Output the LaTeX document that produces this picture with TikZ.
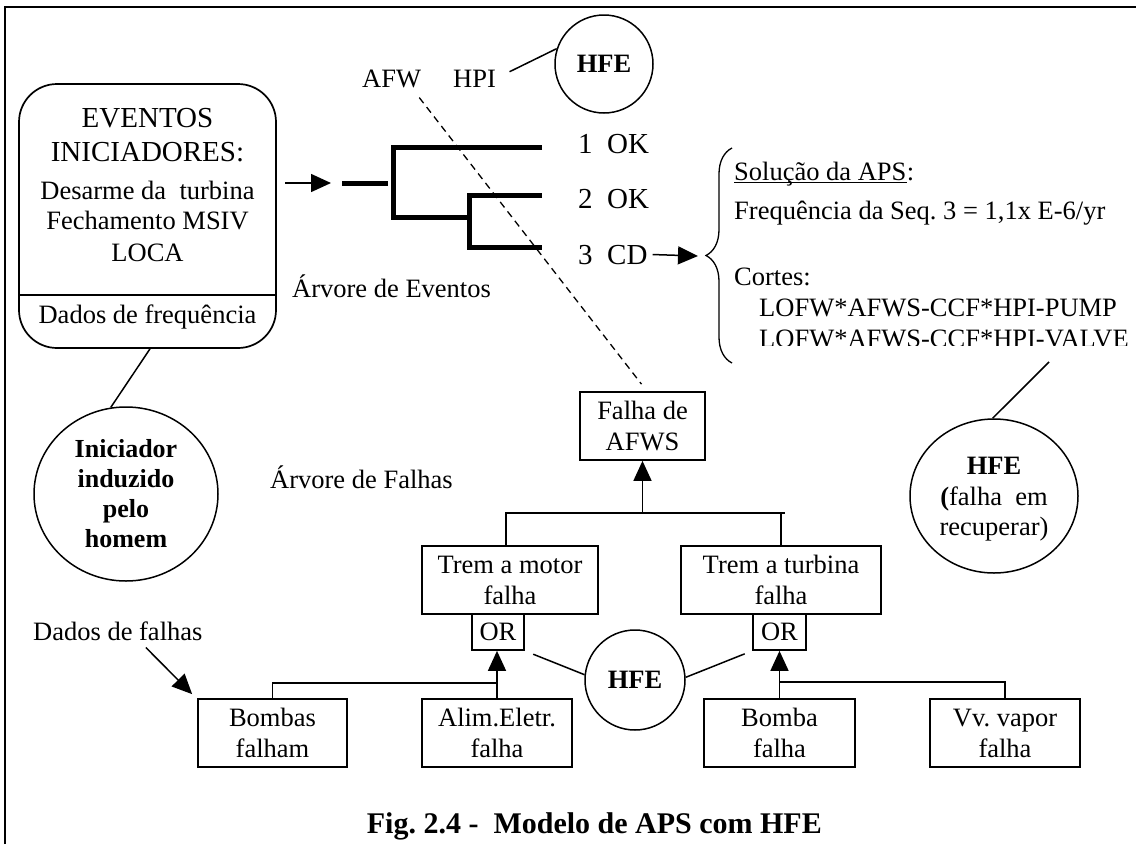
\documentclass[tikz,border=0pt]{standalone}
\usepackage{fontspec}
\setmainfont{Liberation Serif}
\usetikzlibrary{arrows.meta,shapes.geometric,decorations.pathreplacing,calc}
\newcommand{\mysize}{\fontsize{26.5}{31}\selectfont}
\newcommand{\bigsize}{\fontsize{29}{34}\selectfont}
\frenchspacing

\begin{document}
\begin{tikzpicture}[x=1pt,y=-1pt,
  txt/.style={inner sep=0pt, font=\mysize},
  box/.style={draw, line width=1.7pt, inner sep=0pt, align=center, font=\mysize, minimum height=68pt},
  gate/.style={draw, line width=1.7pt, inner sep=0pt, font=\mysize, minimum width=52pt, minimum height=36pt},
  bubble/.style={draw, ellipse, line width=1.5pt, inner sep=0pt},
  roundbubble/.style={draw, circle, line width=1.5pt, inner sep=0pt, font=\mysize\bfseries},
  conn/.style={line width=1.5pt},
  headed/.style={-{Triangle[length=20pt,width=18pt]}},
  branch/.style={line width=5pt},
  dashline/.style={line width=1.3pt, dash pattern=on 7pt off 5pt},
]
\useasboundingbox (0,0) rectangle (1136,844);

% frame
\draw[line width=2pt] (5,844) -- (5,7) -- (1136,7);

% initiating events
\node[draw, line width=1.7pt, rounded corners=38pt, minimum width=257pt, minimum height=264pt, inner sep=0pt] (ie) at (147.5,216) {};
\draw[line width=1.7pt] (ie.west |- 0,295) -- (ie.east |- 0,295);
\node[txt, font=\bigsize, anchor=base] (ev1) at (147.5,127) {EVENTOS};
\node[txt, font=\bigsize, anchor=base] (ev2) at (147.5,161) {INICIADORES:};
\node[txt, anchor=base] (ev3) at (147.5,199) {Desarme da~ turbina};
\node[txt, anchor=base] (ev4) at (147.5,229) {Fechamento MSIV};
\node[txt, anchor=base] (ev5) at (147.5,261) {LOCA};
\node[txt, anchor=base] (ev6) at (147.5,323) {Dados de frequência};

% human-induced initiator
\node[bubble, minimum width=184pt, minimum height=174pt] (ini) at (126,494) {};
\node[txt, font=\fontsize{26}{30}\selectfont\bfseries, align=center] (initxt) at (126,494) {Iniciador\\induzido\\pelo\\homem};
\draw[conn] ([xshift=2.5pt]ie.south) -- (ini.100);

% event tree
\coordinate (a0) at (285,183);
\coordinate (a1) at (331,183);
\draw[conn, headed] (a0) -- (a1);
\coordinate (s0) at (342,183);
\coordinate (s1) at (388,183);
\draw[branch] (s0) -- (s1);
\coordinate (b1) at (542,147.5);
\coordinate (b2) at (542,195);
\coordinate (b3) at (542,247.5);
\draw[branch] (b1) -| (393,217.5) -- (472,217.5);
\draw[branch] (b2) -| (469.5,247.5) -- (b3);
\node[txt, font=\bigsize, anchor=base west] (o1) at (578,153) {1~~OK};
\node[txt, font=\bigsize, anchor=base west] (o2) at (578,208) {2~~OK};
\node[txt, font=\bigsize, anchor=base west] (o3) at (578,264) {3~~CD};
\node[txt, anchor=base west] (evtree) at (292,297) {Árvore de Eventos};

% top headings and HFE
\node[txt, anchor=base west] (afw) at (362,87) {AFW};
\node[txt, anchor=base west] (hpi) at (453,87) {HPI};
\node[roundbubble, minimum size=98pt] (hfeT) at (604,64) {HFE};
\draw[conn, shorten <=15pt] (hpi.east) -- (hfeT.162);

% results brace
\coordinate (bt) at (698,256);
\draw[conn, headed] ([xshift=5pt]o3.east) -- (bt);
\coordinate (brA) at (732,363);
\coordinate (brB) at (732,148);
\draw[line width=1.3pt, decorate, decoration={brace, amplitude=26pt}] (brA) -- (brB);
\node[txt, anchor=base west] (sol) at (734,180) {Solução da APS};
\node[txt, anchor=base west] (colon) at (sol.base east) {:};
\draw[line width=1.2pt] ([shift={(0,2.5)}]sol.base west) -- ([shift={(0,2.5)}]sol.base east);
\node[txt, anchor=base west] (freq) at (734,219) {Frequência da Seq. 3 = 1,1x E-6/yr};
\node[txt, anchor=base west] (cortes) at (734,285) {Cortes:};
\node[txt, anchor=base west] (cut1) at (759,316) {LOFW*AFWS-CCF*HPI-PUMP};
\begin{scope}
  \clip (700,320) rectangle (1136,345.5);
  \node[txt, anchor=base west] (cut2) at (759,347.5) {LOFW*AFWS-CCF*HPI-VALVE};
\end{scope}

% recovery HFE
\node[bubble, minimum width=168pt, minimum height=154pt] (hfeR) at (994,496) {};
\node[txt, align=center, font=\fontsize{26.5}{30.5}\selectfont] (hfeRt) at (994,499.5) {\textbf{HFE}\\\textbf{(}falha~\ em\\recuperar)};
\coordinate (cutEnd) at (1049,362);
\draw[conn] (hfeR.91) -- (cutEnd);

% dashed link from the AFW heading down to the fault tree top event
\node[box, minimum width=125pt] (falha) at (642.5,426) {Falha de\\AFWS};
\draw[dashline] ([shift={(-2,10)}]afw.south east) -- ([shift={(-1,-7)}]falha.north);

% fault tree
\node[txt, anchor=base west] (fttree) at (270,488) {Árvore de Falhas};
\node[box, minimum width=176pt] (tm) at (510,580) {Trem a motor\\falha};
\node[gate] (orL) at (498,632) {OR};
\node[box, minimum width=200pt] (tt) at (781,580) {Trem a turbina\\falha};
\node[gate, minimum width=53pt] (orR) at (779.5,632) {OR};
\node[box, minimum width=149pt] (bf) at (272.5,733) {Bombas\\falham};
\node[box, minimum width=150pt] (ae) at (497,733) {Alim.Eletr.\\falha};
\node[box, minimum width=151pt] (bb) at (779.5,733) {Bomba\\falha};
\node[box, minimum width=150pt] (vv) at (1005,733) {Vv. vapor\\falha};

\coordinate (barL) at (506,513);
\coordinate (barR) at (785,513);
\draw[conn] (tm.north -| barL) -- (barL) -- (barR);
\draw[conn] (tt.north) -- (tt.north |- barR);
\draw[conn, headed] (falha.south |- barL) -- (falha.south);

\coordinate (barBL) at (0,683);
\coordinate (barBR) at (0,682);
\draw[conn] (bf.north) -- (bf.north |- barBL) -- (ae.north |- barBL);
\draw[conn, headed] (ae.north) -- (ae.north |- orL.south);
\draw[conn] (vv.north) -- (vv.north |- barBR) -- (bb.north |- barBR);
\draw[conn, headed] (bb.north) -- (bb.north |- orR.south);

% HFE on the gates
\node[roundbubble, minimum size=100pt] (hfeM) at (635,680) {HFE};
\draw[conn, shorten <=9pt] (orL.south east) -- (hfeM.174);
\draw[conn, shorten >=8pt] (hfeM.3) -- (orR.south west);

% failure data
\node[txt, anchor=base west] (dados) at (33,640) {Dados de falhas};
\draw[conn, headed] ([shift={(28,7)}]dados.south) -- ([shift={(-5,-4)}]bf.north west);

% caption
\node[txt, anchor=base east, font=\fontsize{30}{36}\selectfont\bfseries] (cap) at (822,833) {Fig. 2.4 -~\ Modelo de APS com HFE};
\end{tikzpicture}
\end{document}
